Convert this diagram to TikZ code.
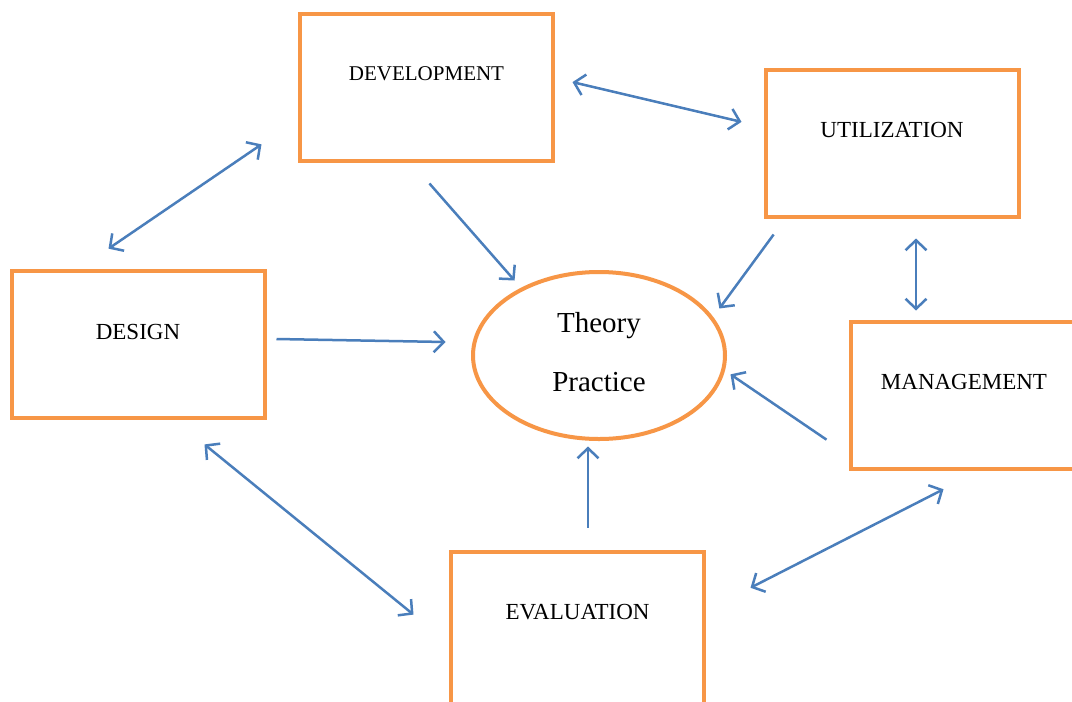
\documentclass[tikz,border=0pt]{standalone}
\usepackage{fontspec}
\setmainfont{Liberation Serif}
\usetikzlibrary{arrows.meta,shapes.geometric}
\definecolor{boxorange}{HTML}{F79646}
\definecolor{linkblue}{HTML}{4A7EBB}

\begin{document}
\begin{tikzpicture}[x=1pt, y=-1pt,
    box/.style={rectangle, draw=boxorange, line width=4pt, minimum width=253pt, minimum height=147pt, inner sep=0pt},
    boxtext/.style={font=\fontsize{23}{27}\selectfont},
    barb/.tip={Straight Barb[length=10pt, width=21pt, line width=2.5pt]},
    link/.style={draw=linkblue, line width=2.5pt, -barb},
    both/.style={draw=linkblue, line width=2.5pt, barb-barb},
    pt/.style={inner sep=0pt, outer sep=0pt}]
    \clip (0,0) rectangle (1072,702);
    \fill [white] (0,0) rectangle (1072,702);
    % Place nodes
    \node [box] (dev) at (426.5,87.5) {};
    \node [box] (util) at (892,143.5) {};
    \node [box] (design) at (138,344.5) {};
    \node [box] (mgmt) at (977.5,395.5) {};
    \node [box, minimum height=160pt] (eval) at (577.5,632) {};
    \node [boxtext, font=\fontsize{21}{25}\selectfont] at ([yshift=14pt]dev.center) {DEVELOPMENT};
    \node [boxtext] at ([yshift=14pt]util.center) {UTILIZATION};
    \node [boxtext] at ([yshift=13pt]design.center) {DESIGN};
    \node [boxtext] at ([xshift=-13.5pt, yshift=14pt]mgmt.center) {MANAGEMENT};
    \node [boxtext] at ([yshift=20pt]eval.center) {EVALUATION};
    \node [ellipse, draw=boxorange, line width=4pt, minimum width=252pt, minimum height=167pt] (theory) at (599,355.5) {};
    \node [align=center, font=\fontsize{29}{59}\selectfont] at ([yshift=3pt]theory.center) {Theory\\Practice};
    % Arrow ends
    \node [pt] (devR) at (572,82) {};
    \node [pt] (utilL) at (742,122) {};
    \node [pt] (designT) at (108,249) {};
    \node [pt] (devL) at (262,144) {};
    \node [pt] (devB) at (429,183) {};
    \node [pt] (thNW) at (515,281) {};
    \node [pt] (utilB) at (774,234) {};
    \node [pt] (thNE) at (719,309) {};
    \node [pt] (utilS) at (916,238) {};
    \node [pt] (mgmtT) at (916,311) {};
    \node [pt] (designR) at (276,339) {};
    \node [pt] (thW) at (446,342) {};
    \node [pt] (mgmtL) at (827,440) {};
    \node [pt] (thE) at (730,374) {};
    \node [pt] (evalT) at (588,528) {};
    \node [pt] (thS) at (588,446) {};
    \node [pt] (designB) at (204,444) {};
    \node [pt] (evalL) at (414,615) {};
    \node [pt] (evalR) at (750,588) {};
    \node [pt] (mgmtB) at (944,489) {};
    % Connectors
    \path [both] (devR) -- (utilL);
    \path [both] (designT) -- (devL);
    \path [link] (devB) -- (thNW);
    \path [link] (utilB) -- (thNE);
    \path [both] (utilS) -- (mgmtT);
    \path [link] (designR) -- (thW);
    \path [link] (mgmtL) -- (thE);
    \path [link] (evalT) -- (thS);
    \path [both] (designB) -- (evalL);
    \path [both] (evalR) -- (mgmtB);
\end{tikzpicture}
\end{document}
